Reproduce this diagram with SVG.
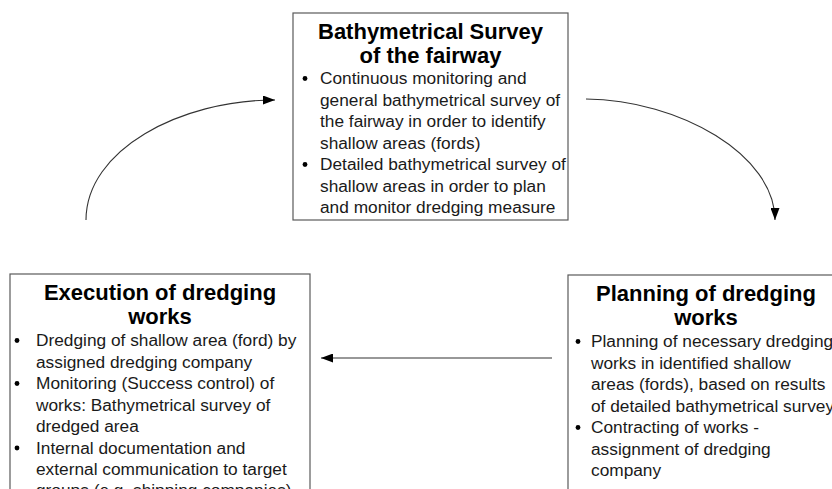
<svg xmlns="http://www.w3.org/2000/svg" width="832" height="489" viewBox="0 0 832 489">
  <defs>
    <style>
      .box { fill: #ffffff; stroke: #5a5a5a; stroke-width: 1.2; }
      .title { font-family: "Liberation Sans", Arial, sans-serif; font-size: 22px; font-weight: bold; fill: #000; text-anchor: middle; }
      .body { font-family: "Liberation Sans", Arial, sans-serif; font-size: 17.3px; fill: #1a1a1a; }
      .bullet { fill: #000; }
      .conn { fill: none; stroke: #333; stroke-width: 1.1; }
    </style>
    <marker id="arrow" viewBox="0 0 12 9" refX="12" refY="4.5" markerWidth="12" markerHeight="9" markerUnits="userSpaceOnUse" orient="auto">
      <path d="M0,0 L12,4.5 L0,9 z" fill="#000"/>
    </marker>
  </defs>
  <rect width="832" height="489" fill="#ffffff"/>

  <g id="survey">
    <rect class="box" x="293" y="13" width="275" height="207"/>
    <text class="title" x="430.5" y="39">Bathymetrical Survey</text>
    <text class="title" x="430.5" y="63">of the fairway</text>
    <circle class="bullet" cx="305" cy="78.5" r="2.4"/>
    <text class="body" x="320" y="84">Continuous monitoring and</text>
    <text class="body" x="320" y="105.5">general bathymetrical survey of</text>
    <text class="body" x="320" y="127">the fairway in order to identify</text>
    <text class="body" x="320" y="148.5">shallow areas (fords)</text>
    <circle class="bullet" cx="305" cy="164.5" r="2.4"/>
    <text class="body" x="320" y="170">Detailed bathymetrical survey of</text>
    <text class="body" x="320" y="191.5">shallow areas in order to plan</text>
    <text class="body" x="320" y="213">and monitor dredging measure</text>
  </g>

  <g id="execution">
    <rect class="box" x="10" y="274" width="300" height="240"/>
    <text class="title" x="160" y="300">Execution of dredging</text>
    <text class="title" x="160" y="324">works</text>
    <circle class="bullet" cx="17" cy="340.5" r="2.4"/>
    <text class="body" x="36" y="346">Dredging of shallow area (ford) by</text>
    <text class="body" x="36" y="367.5">assigned dredging company</text>
    <circle class="bullet" cx="17" cy="383.5" r="2.4"/>
    <text class="body" x="36" y="389">Monitoring (Success control) of</text>
    <text class="body" x="36" y="410.5">works: Bathymetrical survey of</text>
    <text class="body" x="36" y="432">dredged area</text>
    <circle class="bullet" cx="17" cy="448" r="2.4"/>
    <text class="body" x="36" y="453.5">Internal documentation and</text>
    <text class="body" x="36" y="475">external communication to target</text>
    <text class="body" x="36" y="496">groups (e.g. shipping companies)</text>
  </g>

  <g id="planning">
    <rect class="box" x="568" y="275" width="290" height="240"/>
    <text class="title" x="706" y="301">Planning of dredging</text>
    <text class="title" x="706" y="325">works</text>
    <circle class="bullet" cx="578" cy="341.5" r="2.4"/>
    <text class="body" x="591" y="347">Planning of necessary dredging</text>
    <text class="body" x="591" y="368.5">works in identified shallow</text>
    <text class="body" x="591" y="390">areas (fords), based on results</text>
    <text class="body" x="591" y="411.5">of detailed bathymetrical survey</text>
    <circle class="bullet" cx="578" cy="427.5" r="2.4"/>
    <text class="body" x="591" y="433">Contracting of works -</text>
    <text class="body" x="591" y="454.5">assignment of dredging</text>
    <text class="body" x="591" y="476">company</text>
  </g>

  <g id="connectors">
    <path class="conn" d="M86,220 C86,150 180,100 275,100" marker-end="url(#arrow)"/>
    <path class="conn" d="M586,99 C680,100 775,155 775,220" marker-end="url(#arrow)"/>
    <path class="conn" d="M552,358 L321,358" marker-end="url(#arrow)"/>
  </g>
</svg>
